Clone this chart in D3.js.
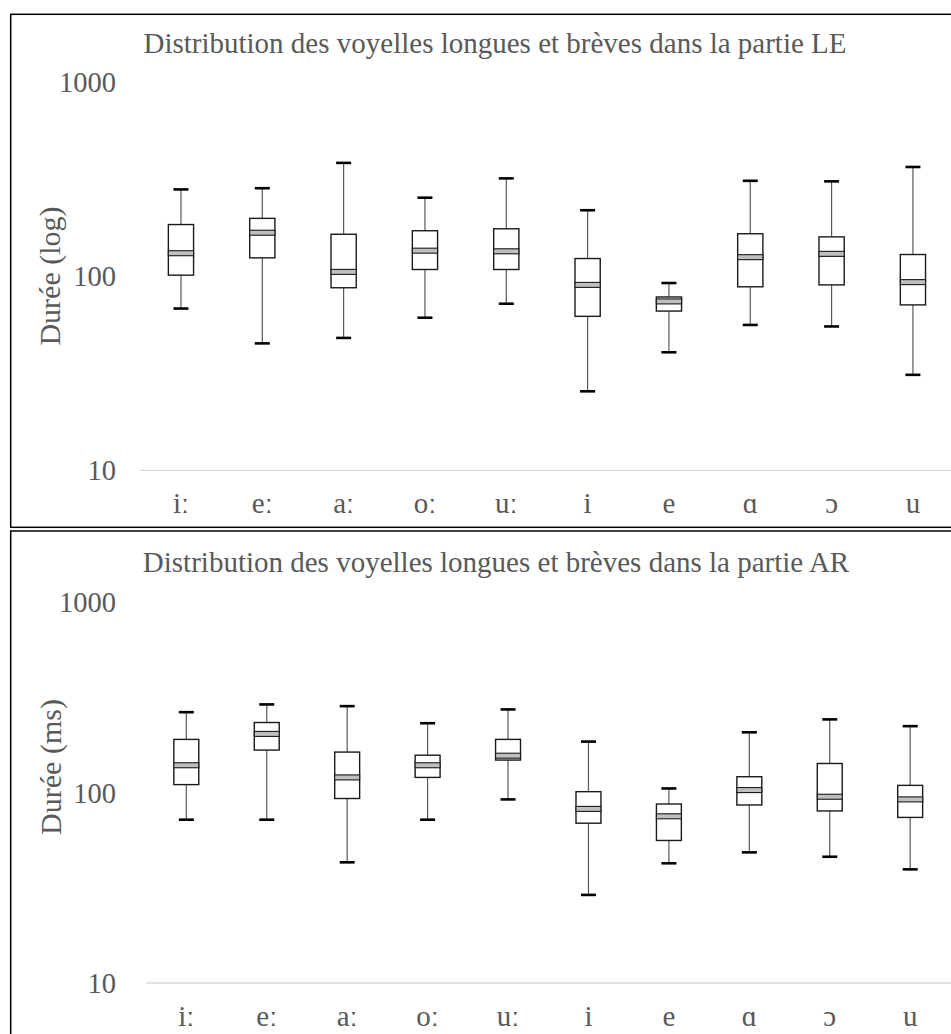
<!DOCTYPE html>
<html>
<head>
<meta charset="utf-8">
<script src="https://cdn.jsdelivr.net/npm/d3@7"></script>
<style>
  html, body { margin: 0; padding: 0; background: #fff; }
  svg { display: block; }
  text { font-family: "Liberation Serif", "Times New Roman", "DejaVu Serif", serif; fill: #595959; }
</style>
</head>
<body>
<svg id="chart" width="951" height="1034"></svg>
<script>
// ---- data ----
const categories = ["iː", "eː", "aː", "oː", "uː", "i", "e", "ɑ", "ɔ", "u"];
const yTicks = [10, 100, 1000];

const titleLE = "Distribution des voyelles longues et brèves dans la partie LE";
const yTitleLE = "Durée (log)";
const leMax = [279, 283, 382, 253, 318, 218, 92, 309, 307, 364];
const leQ3  = [184, 198, 164, 171, 175, 123, 78, 165, 159, 129];
const leMed = [131, 167, 105, 135, 134, 90, 74, 125, 130, 93];
const leQ1  = [101, 124, 87, 108, 108, 62, 66, 88, 90, 71];
const leMin = [68, 45, 48, 61, 72, 25.5, 40.5, 56, 55, 31];

const titleAR = "Distribution des voyelles longues et brèves dans la partie AR";
const yTitleAR = "Durée (ms)";
const arMax = [264, 290, 284, 231, 273, 185, 105, 207, 242, 223];
const arQ3  = [190, 233, 163, 157, 190, 101, 87, 121, 142, 109];
const arMed = [139, 203, 120, 139, 156, 82, 75, 103, 95, 92];
const arQ1  = [110, 167, 93, 120, 148, 69, 56, 86, 80, 74];
const arMin = [72, 72, 43, 72, 92, 29, 42.5, 48.5, 46, 39.5];

// ---- drawing ----
const svg = d3.select("#chart");

function panel(cfg) {
  const g = svg.append("g");
  g.append("rect")
    .attr("x", cfg.frame[0]).attr("y", cfg.frame[1])
    .attr("width", cfg.frame[2]).attr("height", cfg.frame[3])
    .attr("fill", "none").attr("stroke", "#000").attr("stroke-width", 1.5);

  const x = d3.scaleBand().domain(categories).range(cfg.xRange).paddingInner(0).paddingOuter(0);
  const y = d3.scaleLog().domain([10, 1000]).range(cfg.yRange);

  g.append("text").attr("x", cfg.titleX).attr("y", cfg.titleY)
    .attr("text-anchor", "middle").attr("font-size", 29).text(cfg.title);

  g.selectAll("text.ytick").data(yTicks).join("text")
    .attr("class", "ytick")
    .attr("x", 116).attr("y", d => y(d) + 10)
    .attr("text-anchor", "end").attr("font-size", 28.5)
    .text(d => d3.format("d")(d));

  g.append("text")
    .attr("transform", `translate(${cfg.yTitlePos[0]},${cfg.yTitlePos[1]}) rotate(-90)`)
    .attr("text-anchor", "middle").attr("font-size", 30).text(cfg.yTitle);

  g.append("line")
    .attr("x1", cfg.xRange[0]).attr("x2", 951)
    .attr("y1", y(10)).attr("y2", y(10))
    .attr("stroke", "#d9d9d9").attr("stroke-width", 1.3);

  g.selectAll("text.cat").data(categories).join("text")
    .attr("class", "cat")
    .attr("x", d => x(d) + x.bandwidth() / 2)
    .attr("y", y(10) + cfg.catDy)
    .attr("text-anchor", "middle").attr("font-size", 29)
    .text(d => d);

  const bw = x.bandwidth() * 0.31;
  const capW = 15;
  const rows = categories.map((c, i) => ({
    c, min: cfg.min[i], q1: cfg.q1[i], med: cfg.med[i], q3: cfg.q3[i], max: cfg.max[i]
  }));
  const cx = d => x(d.c) + x.bandwidth() / 2;

  const b = g.selectAll("g.box").data(rows).join("g").attr("class", "box");
  b.append("line")
    .attr("x1", cx).attr("x2", cx)
    .attr("y1", d => y(d.max)).attr("y2", d => y(d.q3))
    .attr("stroke", "#595959").attr("stroke-width", 1.2);
  b.append("line")
    .attr("x1", cx).attr("x2", cx)
    .attr("y1", d => y(d.q1)).attr("y2", d => y(d.min))
    .attr("stroke", "#595959").attr("stroke-width", 1.2);
  b.append("line")
    .attr("x1", d => cx(d) - capW / 2).attr("x2", d => cx(d) + capW / 2)
    .attr("y1", d => y(d.max)).attr("y2", d => y(d.max))
    .attr("stroke", "#000").attr("stroke-width", 2.6);
  b.append("line")
    .attr("x1", d => cx(d) - capW / 2).attr("x2", d => cx(d) + capW / 2)
    .attr("y1", d => y(d.min)).attr("y2", d => y(d.min))
    .attr("stroke", "#000").attr("stroke-width", 2.6);
  b.append("rect")
    .attr("x", d => cx(d) - bw / 2).attr("width", bw)
    .attr("y", d => y(d.q3)).attr("height", d => y(d.q1) - y(d.q3))
    .attr("fill", "#fff").attr("stroke", "#1a1a1a").attr("stroke-width", 1.4);
  b.append("rect")
    .attr("x", d => cx(d) - bw / 2).attr("width", bw)
    .attr("y", d => y(d.med) - 2.5).attr("height", 5)
    .attr("fill", "#bfbfbf").attr("stroke", "#1a1a1a").attr("stroke-width", 1.1);
}

panel({
  frame: [10.7, 14.3, 945, 513], xRange: [140.3, 953.6], yRange: [470.3, 81.7],
  title: titleLE, titleX: 495, titleY: 53, yTitle: yTitleLE, yTitlePos: [60, 276], catDy: 43,
  min: leMin, q1: leQ1, med: leMed, q3: leQ3, max: leMax
});
panel({
  frame: [10.7, 531, 945, 520], xRange: [146.1, 950.4], yRange: [983, 602],
  title: titleAR, titleX: 496, titleY: 572, yTitle: yTitleAR, yTitlePos: [61, 767], catDy: 43,
  min: arMin, q1: arQ1, med: arMed, q3: arQ3, max: arMax
});
</script>
</body>
</html>
